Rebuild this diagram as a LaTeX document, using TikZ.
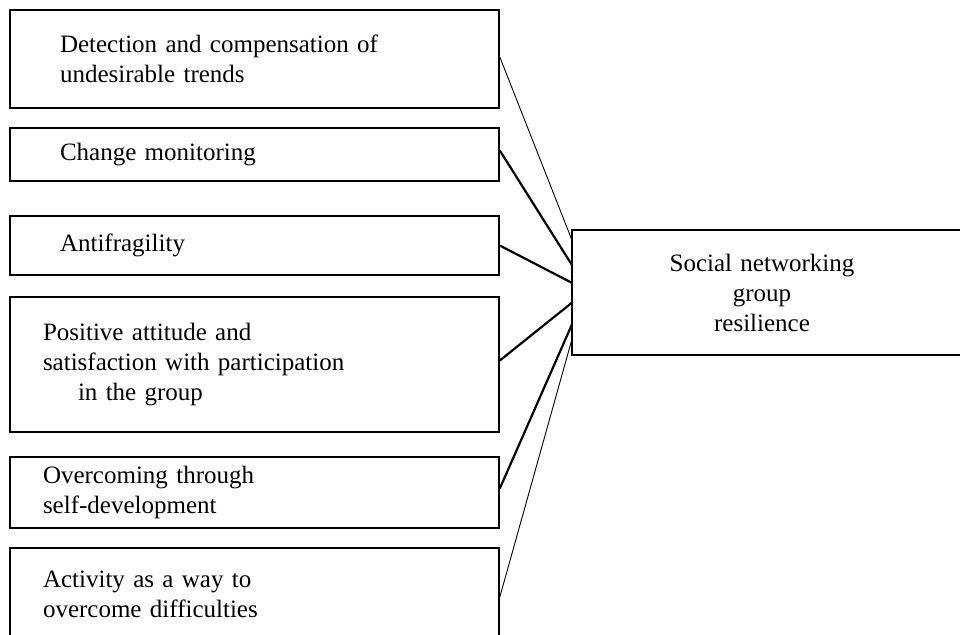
\documentclass[tikz,border=0pt]{standalone}
\usepackage{fontspec}
\setmainfont{Liberation Serif}
\usepackage{tikz}

\tikzset{
  factor/.style={draw,black,line width=1.6pt,minimum width=489pt,inner xsep=#1,
    inner ysep=0pt,text width=489pt-2*#1,align=left,
    font=\fontsize{25pt}{30pt}\selectfont},
  factor/.default=50pt,
  outcome/.style={inner xsep=0pt,inner ysep=0pt,text width=380pt,align=center,
    minimum height=125pt,font=\fontsize{25pt}{30pt}\selectfont},
  link/.style={black,line width=0.9pt},
  strong link/.style={black,line width=2.2pt}
}

\begin{document}
\begin{tikzpicture}[x=1pt,y=-1pt]
\useasboundingbox (0,0) rectangle (960,634);
% factors on the left
 \node[factor,minimum height=98pt] (detect) at (254.5,59) {Detection and compensation of\\undesirable trends};
 \node[factor,minimum height=53pt] (monitor) at (254.5,154.5) {Change monitoring};
 \node[factor,minimum height=59pt] (antifrag) at (254.5,245.5) {Antifragility};
 \node[factor=33pt,minimum height=135pt] (attitude) at (254.5,364.5) {Positive attitude and\\satisfaction with participation\\\hspace*{35pt}in the group};
 \node[factor=33pt,minimum height=71pt] (selfdev) at (254.5,492.5) {Overcoming through\\self-development};
 \node[factor=33pt,minimum height=92pt] (activity) at (254.5,594) {Activity as a way to\\overcome difficulties};
% resilience
 \node[outcome] (resil) at (762,292.5) {Social networking\\group\\resilience};
 \draw[black,line width=1.6pt] (resil.north west) rectangle ([xshift=80pt]resil.south east);
% links
 \draw[link] ([yshift=2pt]detect.east) -- ([yshift=-10pt]resil.north west);
 \draw[strong link] ([yshift=4pt]monitor.east) -- ([yshift=-35pt]resil.north west);
 \draw[strong link] (antifrag.east) -- ([yshift=-53pt]resil.north west);
 \draw[strong link] ([yshift=4pt]attitude.east) -- ([yshift=-73pt]resil.north west);
 \draw[strong link] ([yshift=4pt]selfdev.east) -- ([yshift=-95pt]resil.north west);
 \draw[link] ([yshift=-3pt]activity.east) -- ([yshift=-110pt]resil.north west);
\end{tikzpicture}
\end{document}
